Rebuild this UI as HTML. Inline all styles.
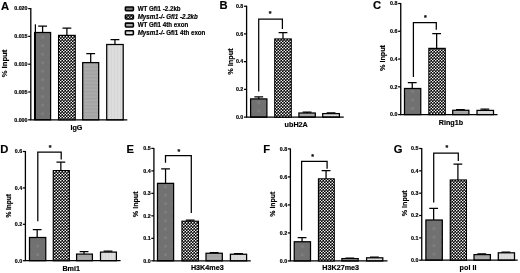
<!DOCTYPE html>
<html><head><meta charset="utf-8"><title>Figure</title>
<style>html,body{margin:0;padding:0;background:#fff;}svg{display:block;}text{font-family:'Liberation Sans', Arial, Helvetica, sans-serif;font-weight:bold;fill:#000;stroke:#000;stroke-width:0.18px;}</style>
</head><body>
<svg width="520" height="273" viewBox="0 0 520 273">
<defs>
<pattern id="p1" width="8.5" height="8.5" patternUnits="userSpaceOnUse"><rect width="8.5" height="8.5" fill="#717171"/><circle cx="4.25" cy="4.25" r="1.7" fill="#7c7c7c"/></pattern>
<pattern id="p1A" width="8.5" height="8.5" x="38.35" y="109.45" patternUnits="userSpaceOnUse"><rect width="8.5" height="8.5" fill="#717171"/><circle cx="4.25" cy="4.25" r="1.7" fill="#7d7d7d"/></pattern>
<pattern id="p1B" width="8.5" height="8.5" x="254.50" y="106.75" patternUnits="userSpaceOnUse"><rect width="8.5" height="8.5" fill="#717171"/><circle cx="4.25" cy="4.25" r="1.7" fill="#7d7d7d"/></pattern>
<pattern id="p1C" width="8.5" height="8.5" x="408.38" y="104.25" patternUnits="userSpaceOnUse"><rect width="8.5" height="8.5" fill="#717171"/><circle cx="4.25" cy="4.25" r="1.7" fill="#7d7d7d"/></pattern>
<pattern id="p1D" width="8.5" height="8.5" x="33.38" y="250.35" patternUnits="userSpaceOnUse"><rect width="8.5" height="8.5" fill="#717171"/><circle cx="4.25" cy="4.25" r="1.7" fill="#7d7d7d"/></pattern>
<pattern id="p1E" width="8.5" height="8.5" x="161.30" y="250.45" patternUnits="userSpaceOnUse"><rect width="8.5" height="8.5" fill="#717171"/><circle cx="4.25" cy="4.25" r="1.7" fill="#7d7d7d"/></pattern>
<pattern id="p1F" width="8.5" height="8.5" x="298.12" y="250.60" patternUnits="userSpaceOnUse"><rect width="8.5" height="8.5" fill="#717171"/><circle cx="4.25" cy="4.25" r="1.7" fill="#7d7d7d"/></pattern>
<pattern id="p1G" width="8.5" height="8.5" x="429.85" y="249.85" patternUnits="userSpaceOnUse"><rect width="8.5" height="8.5" fill="#717171"/><circle cx="4.25" cy="4.25" r="1.7" fill="#7d7d7d"/></pattern>
<pattern id="p2" width="3" height="3" patternUnits="userSpaceOnUse"><rect width="3" height="3" fill="#000"/><circle cx="0.75" cy="0.75" r="0.8" fill="#fff"/><circle cx="2.25" cy="2.25" r="0.8" fill="#fff"/></pattern>
<pattern id="p3" width="4" height="3.5" patternUnits="userSpaceOnUse"><rect width="4" height="3.5" fill="#aaaaaa"/><rect y="0" width="4" height="1.2" fill="#a1a1a1"/></pattern>
<pattern id="p4" width="3" height="4" patternUnits="userSpaceOnUse"><rect width="3" height="4" fill="#dddddd"/><rect x="0" width="1" height="4" fill="#d6d6d6"/></pattern>
<filter id="bl" x="0" y="0" width="520" height="273" filterUnits="userSpaceOnUse"><feGaussianBlur stdDeviation="0.22"/></filter>
</defs>
<g filter="url(#bl)">
<rect width="520" height="273" fill="#fff"/>
<g id="panelA">
<text x="1.00" y="10.00" font-size="11.2">A</text>
<path d="M42.60 32.50V26.00M38.20 26.00H47.00" stroke="#000" stroke-width="1.25" fill="none"/>
<rect x="34.60" y="32.50" width="16.00" height="87.30" fill="url(#p1A)" stroke="#000" stroke-width="1.25"/>
<path d="M66.90 35.40V28.00M62.50 28.00H71.30" stroke="#000" stroke-width="1.25" fill="none"/>
<rect x="58.60" y="35.40" width="16.60" height="84.40" fill="url(#p2)" stroke="#000" stroke-width="1.25"/>
<path d="M90.70 62.60V53.50M86.30 53.50H95.10" stroke="#000" stroke-width="1.25" fill="none"/>
<rect x="82.70" y="62.60" width="16.00" height="57.20" fill="url(#p3)" stroke="#000" stroke-width="1.25"/>
<path d="M114.95 44.50V39.70M110.55 39.70H119.35" stroke="#000" stroke-width="1.25" fill="none"/>
<rect x="106.70" y="44.50" width="16.50" height="75.30" fill="url(#p4)" stroke="#000" stroke-width="1.25"/>
<path d="M30.80 8.10V119.80H127.30" stroke="#000" stroke-width="1.3" fill="none"/>
<path d="M28.20 8.60H30.80" stroke="#000" stroke-width="1.25"/>
<text x="27.50" y="10.40" font-size="5.3" text-anchor="end">0.020</text>
<path d="M28.20 36.40H30.80" stroke="#000" stroke-width="1.25"/>
<text x="27.50" y="38.20" font-size="5.3" text-anchor="end">0.015</text>
<path d="M28.20 64.20H30.80" stroke="#000" stroke-width="1.25"/>
<text x="27.50" y="66.00" font-size="5.3" text-anchor="end">0.010</text>
<path d="M28.20 92.00H30.80" stroke="#000" stroke-width="1.25"/>
<text x="27.50" y="93.80" font-size="5.3" text-anchor="end">0.005</text>
<path d="M28.20 119.80H30.80" stroke="#000" stroke-width="1.25"/>
<text x="27.50" y="121.60" font-size="5.3" text-anchor="end">0.000</text>
<text x="76.40" y="130.30" font-size="7.2" text-anchor="middle">IgG</text>
<text transform="translate(7.00 63.50) rotate(-90)" font-size="7.65" text-anchor="middle">% Input</text>
</g>
<g id="panelB">
<text x="219.50" y="9.10" font-size="11.2">B</text>
<path d="M258.75 98.90V96.75M254.35 96.75H263.15" stroke="#000" stroke-width="1.25" fill="none"/>
<rect x="250.60" y="98.90" width="16.30" height="18.20" fill="url(#p1B)" stroke="#000" stroke-width="1.25"/>
<path d="M283.00 39.00V32.60M278.60 32.60H287.40" stroke="#000" stroke-width="1.25" fill="none"/>
<rect x="274.80" y="39.00" width="16.40" height="78.10" fill="url(#p2)" stroke="#000" stroke-width="1.25"/>
<path d="M307.10 113.00V112.00M302.70 112.00H311.50" stroke="#000" stroke-width="1.25" fill="none"/>
<rect x="298.90" y="113.00" width="16.40" height="4.10" fill="url(#p3)" stroke="#000" stroke-width="1.25"/>
<path d="M331.05 113.60V112.80M326.65 112.80H335.45" stroke="#000" stroke-width="1.25" fill="none"/>
<rect x="322.70" y="113.60" width="16.70" height="3.50" fill="url(#p4)" stroke="#000" stroke-width="1.25"/>
<path d="M246.60 5.70V117.10H343.75" stroke="#000" stroke-width="1.3" fill="none"/>
<path d="M244.00 6.20H246.60" stroke="#000" stroke-width="1.25"/>
<text x="243.30" y="8.00" font-size="5.3" text-anchor="end">0.8</text>
<path d="M244.00 33.92H246.60" stroke="#000" stroke-width="1.25"/>
<text x="243.30" y="35.72" font-size="5.3" text-anchor="end">0.6</text>
<path d="M244.00 61.65H246.60" stroke="#000" stroke-width="1.25"/>
<text x="243.30" y="63.45" font-size="5.3" text-anchor="end">0.4</text>
<path d="M244.00 89.38H246.60" stroke="#000" stroke-width="1.25"/>
<text x="243.30" y="91.17" font-size="5.3" text-anchor="end">0.2</text>
<path d="M244.00 117.10H246.60" stroke="#000" stroke-width="1.25"/>
<text x="243.30" y="118.90" font-size="5.3" text-anchor="end">0.0</text>
<text x="296.20" y="127.20" font-size="7.2" text-anchor="middle">ubH2A</text>
<text transform="translate(232.60 61.60) rotate(-90)" font-size="7.30" text-anchor="middle">% Input</text>
<path d="M258.70 91.60V19.10H282.40V28.90" stroke="#000" stroke-width="1.25" fill="none"/>
<text x="270.20" y="15.60" font-size="7" text-anchor="middle">*</text>
</g>
<g id="panelC">
<text x="373.00" y="9.30" font-size="11.2">C</text>
<path d="M412.23 88.50V82.50M407.83 82.50H416.62" stroke="#000" stroke-width="1.25" fill="none"/>
<rect x="404.50" y="88.50" width="16.25" height="26.10" fill="url(#p1C)" stroke="#000" stroke-width="1.25"/>
<path d="M436.65 48.40V33.50M432.25 33.50H441.05" stroke="#000" stroke-width="1.25" fill="none"/>
<rect x="428.90" y="48.40" width="16.30" height="66.20" fill="url(#p2)" stroke="#000" stroke-width="1.25"/>
<path d="M460.40 110.30V109.60M456.00 109.60H464.80" stroke="#000" stroke-width="1.25" fill="none"/>
<rect x="452.70" y="110.30" width="16.20" height="4.30" fill="url(#p3)" stroke="#000" stroke-width="1.25"/>
<path d="M484.85 110.40V109.00M480.45 109.00H489.25" stroke="#000" stroke-width="1.25" fill="none"/>
<rect x="477.00" y="110.40" width="16.50" height="4.20" fill="url(#p4)" stroke="#000" stroke-width="1.25"/>
<path d="M400.75 3.00V114.60H497.50" stroke="#000" stroke-width="1.3" fill="none"/>
<path d="M398.15 3.50H400.75" stroke="#000" stroke-width="1.25"/>
<text x="397.45" y="5.30" font-size="5.3" text-anchor="end">0.8</text>
<path d="M398.15 31.27H400.75" stroke="#000" stroke-width="1.25"/>
<text x="397.45" y="33.07" font-size="5.3" text-anchor="end">0.6</text>
<path d="M398.15 59.05H400.75" stroke="#000" stroke-width="1.25"/>
<text x="397.45" y="60.85" font-size="5.3" text-anchor="end">0.4</text>
<path d="M398.15 86.82H400.75" stroke="#000" stroke-width="1.25"/>
<text x="397.45" y="88.62" font-size="5.3" text-anchor="end">0.2</text>
<path d="M398.15 114.60H400.75" stroke="#000" stroke-width="1.25"/>
<text x="397.45" y="116.40" font-size="5.3" text-anchor="end">0.0</text>
<text x="450.90" y="124.90" font-size="7.2" text-anchor="middle">Ring1b</text>
<text transform="translate(385.10 58.00) rotate(-90)" font-size="7.20" text-anchor="middle">% Input</text>
<path d="M413.40 77.00V22.50H436.30V29.80" stroke="#000" stroke-width="1.25" fill="none"/>
<text x="425.40" y="19.80" font-size="7" text-anchor="middle">*</text>
</g>
<g id="panelD">
<text x="0.15" y="153.00" font-size="11.2">D</text>
<path d="M37.17 237.50V229.60M32.77 229.60H41.57" stroke="#000" stroke-width="1.25" fill="none"/>
<rect x="29.50" y="237.50" width="16.25" height="23.20" fill="url(#p1D)" stroke="#000" stroke-width="1.25"/>
<path d="M60.85 170.65V162.00M56.45 162.00H65.25" stroke="#000" stroke-width="1.25" fill="none"/>
<rect x="53.30" y="170.65" width="16.00" height="90.05" fill="url(#p2)" stroke="#000" stroke-width="1.25"/>
<path d="M84.05 254.10V251.60M79.65 251.60H88.45" stroke="#000" stroke-width="1.25" fill="none"/>
<rect x="76.60" y="254.10" width="15.80" height="6.60" fill="url(#p3)" stroke="#000" stroke-width="1.25"/>
<path d="M108.00 252.10V251.00M103.60 251.00H112.40" stroke="#000" stroke-width="1.25" fill="none"/>
<rect x="100.50" y="252.10" width="15.90" height="8.60" fill="url(#p4)" stroke="#000" stroke-width="1.25"/>
<path d="M25.40 151.00V260.70H120.60" stroke="#000" stroke-width="1.3" fill="none"/>
<path d="M22.80 151.50H25.40" stroke="#000" stroke-width="1.25"/>
<text x="22.10" y="153.30" font-size="5.3" text-anchor="end">0.6</text>
<path d="M22.80 187.90H25.40" stroke="#000" stroke-width="1.25"/>
<text x="22.10" y="189.70" font-size="5.3" text-anchor="end">0.4</text>
<path d="M22.80 224.30H25.40" stroke="#000" stroke-width="1.25"/>
<text x="22.10" y="226.10" font-size="5.3" text-anchor="end">0.2</text>
<path d="M22.80 260.70H25.40" stroke="#000" stroke-width="1.25"/>
<text x="22.10" y="262.50" font-size="5.3" text-anchor="end">0.0</text>
<text x="71.20" y="270.80" font-size="7.2" text-anchor="middle">Bmi1</text>
<text transform="translate(10.60 205.80) rotate(-90)" font-size="6.55" text-anchor="middle">% Input</text>
<path d="M37.80 221.25V152.10H61.20V159.60" stroke="#000" stroke-width="1.25" fill="none"/>
<text x="50.20" y="149.80" font-size="7" text-anchor="middle">*</text>
</g>
<g id="panelE">
<text x="126.45" y="153.00" font-size="11.2">E</text>
<path d="M165.55 183.35V168.75M161.15 168.75H169.95" stroke="#000" stroke-width="1.25" fill="none"/>
<rect x="157.50" y="183.35" width="16.10" height="77.45" fill="url(#p1E)" stroke="#000" stroke-width="1.25"/>
<path d="M190.20 221.25V220.00M185.80 220.00H194.60" stroke="#000" stroke-width="1.25" fill="none"/>
<rect x="182.00" y="221.25" width="16.40" height="39.55" fill="url(#p2)" stroke="#000" stroke-width="1.25"/>
<path d="M214.15 253.25V252.50M209.75 252.50H218.55" stroke="#000" stroke-width="1.25" fill="none"/>
<rect x="206.00" y="253.25" width="16.30" height="7.55" fill="url(#p3)" stroke="#000" stroke-width="1.25"/>
<path d="M238.50 254.25V253.50M234.10 253.50H242.90" stroke="#000" stroke-width="1.25" fill="none"/>
<rect x="230.40" y="254.25" width="16.20" height="6.55" fill="url(#p4)" stroke="#000" stroke-width="1.25"/>
<path d="M153.90 147.90V260.80H250.75" stroke="#000" stroke-width="1.3" fill="none"/>
<path d="M151.30 148.40H153.90" stroke="#000" stroke-width="1.25"/>
<text x="150.60" y="150.20" font-size="5.3" text-anchor="end">0.5</text>
<path d="M151.30 170.88H153.90" stroke="#000" stroke-width="1.25"/>
<text x="150.60" y="172.68" font-size="5.3" text-anchor="end">0.4</text>
<path d="M151.30 193.36H153.90" stroke="#000" stroke-width="1.25"/>
<text x="150.60" y="195.16" font-size="5.3" text-anchor="end">0.3</text>
<path d="M151.30 215.84H153.90" stroke="#000" stroke-width="1.25"/>
<text x="150.60" y="217.64" font-size="5.3" text-anchor="end">0.2</text>
<path d="M151.30 238.32H153.90" stroke="#000" stroke-width="1.25"/>
<text x="150.60" y="240.12" font-size="5.3" text-anchor="end">0.1</text>
<path d="M151.30 260.80H153.90" stroke="#000" stroke-width="1.25"/>
<text x="150.60" y="262.60" font-size="5.3" text-anchor="end">0.0</text>
<text x="207.30" y="270.00" font-size="7.2" text-anchor="middle">H3K4me3</text>
<text transform="translate(138.20 204.30) rotate(-90)" font-size="7.15" text-anchor="middle">% Input</text>
<path d="M165.50 162.80V155.50H191.30V213.00" stroke="#000" stroke-width="1.25" fill="none"/>
<text x="178.75" y="153.60" font-size="7" text-anchor="middle">*</text>
</g>
<g id="panelF">
<text x="263.35" y="152.70" font-size="11.2">F</text>
<path d="M302.07 241.75V237.50M297.68 237.50H306.47" stroke="#000" stroke-width="1.25" fill="none"/>
<rect x="294.25" y="241.75" width="16.25" height="19.20" fill="url(#p1F)" stroke="#000" stroke-width="1.25"/>
<path d="M326.05 178.90V170.50M321.65 170.50H330.45" stroke="#000" stroke-width="1.25" fill="none"/>
<rect x="318.50" y="178.90" width="15.70" height="82.05" fill="url(#p2)" stroke="#000" stroke-width="1.25"/>
<path d="M349.75 258.60V258.00M345.35 258.00H354.15" stroke="#000" stroke-width="1.25" fill="none"/>
<rect x="341.90" y="258.60" width="16.30" height="2.35" fill="url(#p3)" stroke="#000" stroke-width="1.25"/>
<path d="M374.40 257.80V257.20M370.00 257.20H378.80" stroke="#000" stroke-width="1.25" fill="none"/>
<rect x="366.60" y="257.80" width="16.20" height="3.15" fill="url(#p4)" stroke="#000" stroke-width="1.25"/>
<path d="M290.40 148.40V260.95H387.50" stroke="#000" stroke-width="1.3" fill="none"/>
<path d="M287.80 148.90H290.40" stroke="#000" stroke-width="1.25"/>
<text x="287.10" y="150.70" font-size="5.3" text-anchor="end">0.8</text>
<path d="M287.80 176.91H290.40" stroke="#000" stroke-width="1.25"/>
<text x="287.10" y="178.71" font-size="5.3" text-anchor="end">0.6</text>
<path d="M287.80 204.93H290.40" stroke="#000" stroke-width="1.25"/>
<text x="287.10" y="206.73" font-size="5.3" text-anchor="end">0.4</text>
<path d="M287.80 232.94H290.40" stroke="#000" stroke-width="1.25"/>
<text x="287.10" y="234.74" font-size="5.3" text-anchor="end">0.2</text>
<path d="M287.80 260.95H290.40" stroke="#000" stroke-width="1.25"/>
<text x="287.10" y="262.75" font-size="5.3" text-anchor="end">0.0</text>
<text x="340.70" y="270.05" font-size="7.2" text-anchor="middle">H3K27me3</text>
<text transform="translate(274.80 204.20) rotate(-90)" font-size="6.90" text-anchor="middle">% Input</text>
<path d="M301.60 230.50V161.40H327.10V168.70" stroke="#000" stroke-width="1.25" fill="none"/>
<text x="312.50" y="158.85" font-size="7" text-anchor="middle">*</text>
</g>
<g id="panelG">
<text x="393.70" y="152.90" font-size="11.2">G</text>
<path d="M433.65 220.00V208.30M429.25 208.30H438.05" stroke="#000" stroke-width="1.25" fill="none"/>
<rect x="425.90" y="220.00" width="16.40" height="40.20" fill="url(#p1G)" stroke="#000" stroke-width="1.25"/>
<path d="M457.90 180.00V164.00M453.50 164.00H462.30" stroke="#000" stroke-width="1.25" fill="none"/>
<rect x="450.30" y="180.00" width="16.10" height="80.20" fill="url(#p2)" stroke="#000" stroke-width="1.25"/>
<path d="M481.75 254.60V253.80M477.35 253.80H486.15" stroke="#000" stroke-width="1.25" fill="none"/>
<rect x="474.00" y="254.60" width="16.40" height="5.60" fill="url(#p3)" stroke="#000" stroke-width="1.25"/>
<path d="M505.95 252.80V252.20M501.55 252.20H510.35" stroke="#000" stroke-width="1.25" fill="none"/>
<rect x="498.30" y="252.80" width="16.20" height="7.40" fill="url(#p4)" stroke="#000" stroke-width="1.25"/>
<path d="M421.75 148.00V260.20H517.70" stroke="#000" stroke-width="1.3" fill="none"/>
<path d="M419.15 148.50H421.75" stroke="#000" stroke-width="1.25"/>
<text x="418.45" y="150.30" font-size="5.3" text-anchor="end">0.5</text>
<path d="M419.15 170.84H421.75" stroke="#000" stroke-width="1.25"/>
<text x="418.45" y="172.64" font-size="5.3" text-anchor="end">0.4</text>
<path d="M419.15 193.18H421.75" stroke="#000" stroke-width="1.25"/>
<text x="418.45" y="194.98" font-size="5.3" text-anchor="end">0.3</text>
<path d="M419.15 215.52H421.75" stroke="#000" stroke-width="1.25"/>
<text x="418.45" y="217.32" font-size="5.3" text-anchor="end">0.2</text>
<path d="M419.15 237.86H421.75" stroke="#000" stroke-width="1.25"/>
<text x="418.45" y="239.66" font-size="5.3" text-anchor="end">0.1</text>
<path d="M419.15 260.20H421.75" stroke="#000" stroke-width="1.25"/>
<text x="418.45" y="262.00" font-size="5.3" text-anchor="end">0.0</text>
<text x="468.00" y="269.85" font-size="7.2" text-anchor="middle">pol II</text>
<text transform="translate(407.40 203.40) rotate(-90)" font-size="7.20" text-anchor="middle">% Input</text>
<path d="M433.70 202.40V153.20H458.30V160.90" stroke="#000" stroke-width="1.25" fill="none"/>
<text x="446.75" y="150.30" font-size="7" text-anchor="middle">*</text>
</g>
<path d="M35.4 24.3V119.5" stroke="#000" stroke-width="1.25"/>
<g id="legend">
<rect x="125.4" y="6.90" width="8.0" height="3.9" rx="0.7" fill="url(#p1)" stroke="#000" stroke-width="1.55"/>
<text transform="translate(137.7 11.20) scale(0.925 1)" font-size="6.7">WT Gfi1 -2.2kb</text>
<rect x="125.4" y="15.00" width="8.0" height="3.9" rx="0.7" fill="url(#p2)" stroke="#000" stroke-width="1.55"/>
<text transform="translate(137.7 19.30) scale(0.925 1)" font-size="6.7"><tspan font-style="italic">Mysm1-/- Gfi1 -2.2kb</tspan></text>
<rect x="125.4" y="23.10" width="8.0" height="3.9" rx="0.7" fill="url(#p3)" stroke="#000" stroke-width="1.55"/>
<text transform="translate(137.7 27.40) scale(0.925 1)" font-size="6.7">WT Gfi1 4th exon</text>
<rect x="125.4" y="30.80" width="8.0" height="3.9" rx="0.7" fill="url(#p4)" stroke="#000" stroke-width="1.55"/>
<text transform="translate(137.7 35.10) scale(0.925 1)" font-size="6.7"><tspan font-style="italic">Mysm1-/-</tspan> Gfi1 4th exon</text>
</g>
</g>
<g id="sharp">
<rect x="59.22" y="36.02" width="15.36" height="83.16" fill="url(#p2)"/>
<rect x="275.42" y="39.62" width="15.16" height="76.86" fill="url(#p2)"/>
<rect x="429.52" y="49.02" width="15.06" height="64.96" fill="url(#p2)"/>
<rect x="53.92" y="171.27" width="14.76" height="88.81" fill="url(#p2)"/>
<rect x="182.62" y="221.87" width="15.16" height="38.31" fill="url(#p2)"/>
<rect x="319.12" y="179.52" width="14.46" height="80.81" fill="url(#p2)"/>
<rect x="450.92" y="180.62" width="14.86" height="78.96" fill="url(#p2)"/>
<rect x="126.2" y="15.8" width="6.4" height="2.3" fill="url(#p2)"/>
</g>
</svg></body></html>
